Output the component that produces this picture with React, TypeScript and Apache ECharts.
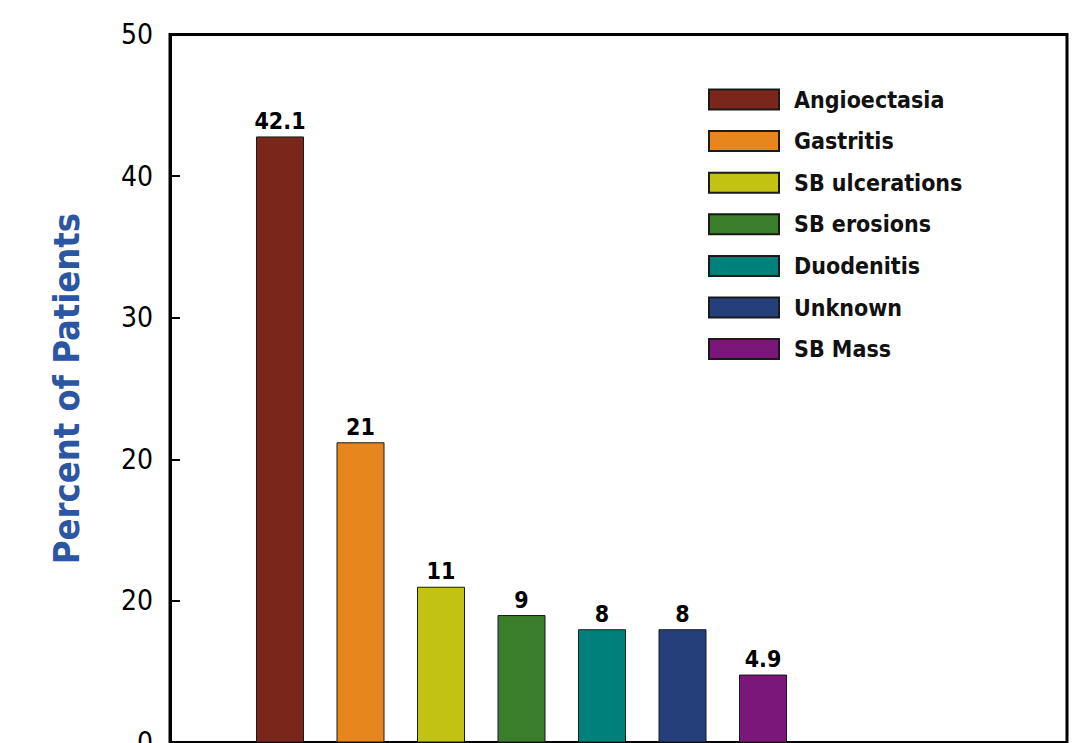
import React, { useEffect, useRef } from 'react';
import * as echarts from 'echarts';

const categories = ['Angioectasia', 'Gastritis', 'SB ulcerations', 'SB erosions', 'Duodenitis', 'Unknown', 'SB Mass'];
const barHeights = [42.8, 21.2, 11, 9, 8, 8, 4.8];
const valueLabels = ['42.1', '21', '11', '9', '8', '8', '4.9'];
const colors = ['#7a261b', '#e8861e', '#c2c213', '#3a7d2a', '#00807a', '#253f7a', '#7b177a'];
const yTickLabels = ['0', '20', '20', '30', '40', '50'];
const yAxisTitle = 'Percent of Patients';

const FONT = '"Liberation Sans Narrow", "DejaVu Sans Condensed", "Roboto", sans-serif';

export default function App() {
  const ref = useRef<HTMLDivElement>(null);
  useEffect(() => {
    if (!ref.current) return;
    const chart = echarts.init(ref.current, null, { renderer: 'svg' });
    chart.setOption({
      animation: false,
      backgroundColor: '#ffffff',
      textStyle: { fontFamily: FONT },
      legend: {
        orient: 'vertical',
        left: 708,
        top: 88,
        padding: 0,
        itemWidth: 70,
        itemHeight: 20,
        itemGap: 18.6,
        icon: 'rect',
        data: categories,
        textStyle: { fontFamily: FONT, fontSize: 23, fontWeight: 'bold', color: '#111', lineHeight: 20, padding: [0, 0, 0, 10] },
      },
      grid: [
        { left: 170, width: 897, top: 34.5, height: 708, show: true, borderColor: '#000', borderWidth: 3, backgroundColor: 'transparent' },
        { left: 239.75, width: 563.5, top: 34.5, height: 708 },
      ],
      xAxis: [
        { type: 'category', gridIndex: 0, show: false, data: ['a'] },
        { type: 'category', gridIndex: 1, show: false, data: categories },
      ],
      yAxis: [
        {
          type: 'value', gridIndex: 0, min: 0, max: 50, interval: 10,
          name: yAxisTitle, nameLocation: 'middle', nameGap: 86,
          nameTextStyle: { fontFamily: FONT, fontSize: 36, fontWeight: 'bold', color: '#2b56a3' },
          axisLine: { show: true, lineStyle: { color: '#000', width: 3 } },
          axisTick: { show: true, inside: true, length: 10, lineStyle: { color: '#000', width: 2 } },
          axisLabel: { fontFamily: FONT, fontSize: 28, color: '#000', margin: 17, formatter: (v: number) => yTickLabels[Math.round(v / 10)] },
          splitLine: { show: false },
        },
        { type: 'value', gridIndex: 1, min: 0, max: 50, show: false, splitLine: { show: false } },
      ],
      series: categories.map((name, i) => ({
        name,
        type: 'bar',
        xAxisIndex: 1,
        yAxisIndex: 1,
        stack: 'total',
        barWidth: 48,
        data: categories.map((_, j) => (j === i ? barHeights[i] : null)),
        itemStyle: { color: colors[i], borderColor: '#1a1a1a', borderWidth: 1 },
        label: {
          show: true,
          position: 'top',
          distance: 4,
          formatter: () => valueLabels[i],
          fontFamily: FONT,
          fontSize: 23,
          fontWeight: 'bold',
          color: '#000',
        },
      })),
    });
    return () => chart.dispose();
  }, []);
  return <div ref={ref} style={{ position: 'absolute', left: 0, top: 0, width: 1089, height: 780 }} />;
}
